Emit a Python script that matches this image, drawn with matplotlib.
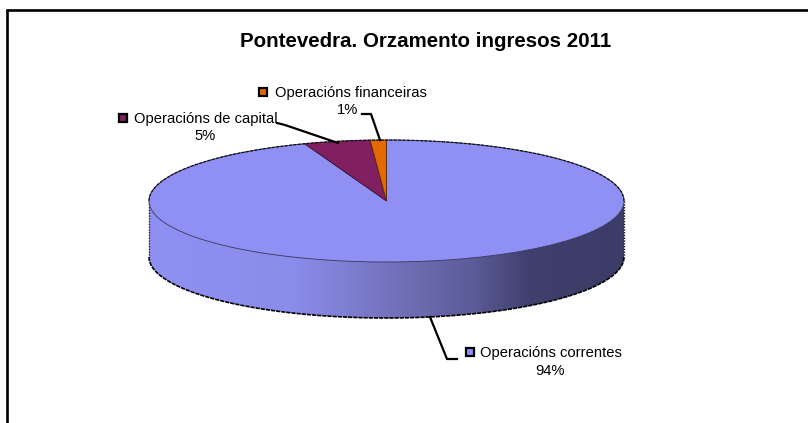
import numpy as np
import matplotlib
matplotlib.use("Agg")
import matplotlib.pyplot as plt
from matplotlib.patches import Polygon
from matplotlib.colors import LinearSegmentedColormap

plt.rcParams['font.family'] = ['Liberation Sans', 'DejaVu Sans']

title = "Pontevedra. Orzamento ingresos 2011"
categories = ["Operacións correntes", "Operacións de capital", "Operacións financeiras"]
values = [94.4, 4.5, 1.1]
labels_pct = ["94%", "5%", "1%"]
colors = ["#9090F4", "#802060", "#E06A00"]

W, H = 808, 423
fig = plt.figure(figsize=(W / 100, H / 100), dpi=100, facecolor="white")

# pixel overlay for frame, leaders and labels
ov = fig.add_axes([0, 0, 1, 1], zorder=3)
ov.set_xlim(0, W)
ov.set_ylim(H, 0)
ov.axis("off")
ov.patch.set_alpha(0)

# ellipse box of the top face, in pixels; axes extended down by the wall depth
L, R, T, B = 149, 624, 140, 262
DEPTH = 56
d = 2 * DEPTH / (B - T)
ax = fig.add_axes([L / W, 1 - (B + DEPTH) / H, (R - L) / W, (B + DEPTH - T) / H], zorder=2)
wedges, _ = ax.pie(values, colors=colors, startangle=90, counterclock=False, radius=1,
                   wedgeprops=dict(edgecolor="#30305a", linewidth=0.6))
for w in wedges:
    w.set_clip_on(False)
    w.set_zorder(3)
wedges[1].set_edgecolor("#401030")
wedges[2].set_edgecolor("#5a2a00")

# side wall below the front half of the ellipse
th = np.linspace(np.pi, 2 * np.pi, 200)
xs, ys = np.cos(th), np.sin(th)
wall = np.column_stack([np.r_[xs, xs[::-1]], np.r_[ys, ys[::-1] - d]])
patch = Polygon(wall, closed=True, facecolor="none", edgecolor="none", transform=ax.transData)
ax.add_patch(patch)
cmap = LinearSegmentedColormap.from_list("side", [
    (0.00, "#9090F4"), (0.30, "#8C8CEC"), (0.50, "#7474BE"),
    (0.68, "#5C5C98"), (0.80, "#40406E"), (1.00, "#3C3C68")])
img = ax.imshow(np.linspace(0, 1, 512).reshape(1, -1), cmap=cmap, aspect="auto",
                extent=(-1, 1, -1 - d, 1), zorder=1)
ax.set_aspect("auto")
ax.set_xlim(-1, 1)
ax.set_ylim(-1 - d, 1)
img.set_clip_path(patch)
ax.plot(xs, ys - d, color="black", lw=1.2, ls=(0, (2.5, 0.6)), clip_on=False, zorder=2)
ax.plot([-1, -1], [0, -d], color="#222", lw=1.0, ls=(0, (1, 1)), clip_on=False, zorder=2)
ax.plot([1, 1], [0, -d], color="#111", lw=1.0, ls=(0, (1, 1)), clip_on=False, zorder=2)
th_top = np.linspace(0, np.pi, 200)
ax.plot(np.cos(th_top), np.sin(th_top), color="#111", lw=0.9, ls=(0, (2.5, 1)), clip_on=False, zorder=4)
ax.patch.set_alpha(0)
ax.axis("off")

# frame (top and left only)
ov.plot([5.5, W], [10.5, 10.5], color="black", lw=1.9, solid_capstyle="butt")
ov.plot([6.5, 6.5], [9.5, H], color="black", lw=1.9, solid_capstyle="butt")

ov.text(426, 41.5, title, ha="center", va="center", fontsize=14.8, fontweight="bold", color="black")

# leaders
ov.plot([430, 447, 457], [317, 359, 359], color="black", lw=1.6)
ov.plot([277, 285, 338], [123, 125, 143], color="black", lw=1.6)
ov.plot([362, 371, 380], [114, 114, 140], color="black", lw=1.6)

# labels with legend keys
label_pos = [(480, 353, 550, 371, 469.5), (134, 119, 205, 136, 123), (275, 93, 348, 110, 263)]
for name, pct, col, (tx, ty, px, py, kx) in zip(categories, labels_pct, colors, label_pos):
    ov.text(tx, ty, name, ha="left", va="center", fontsize=10.6, color="black")
    ov.text(px, py, pct, ha="center", va="center", fontsize=10.6, color="black")
    ov.plot([kx], [ty - 0.5], marker="s", ms=5.5, mfc=col, mec="black", mew=1.6)

fig.savefig("out.png", dpi=100, facecolor="white")
